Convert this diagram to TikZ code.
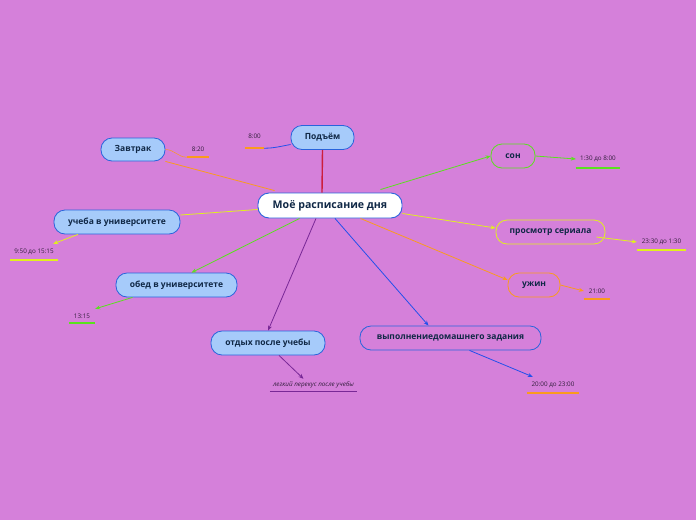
\documentclass[tikz,border=0pt]{standalone}
\usepackage{fontspec}
\setmainfont{Open Sans}
\usetikzlibrary{arrows.meta}
\definecolor{bg}{RGB}{213,128,218}
\definecolor{boxfill}{RGB}{166,203,250}
\definecolor{boxline}{RGB}{40,100,220}
\definecolor{txt}{RGB}{16,40,70}
\definecolor{lbltxt}{RGB}{50,30,60}
\definecolor{cred}{RGB}{204,30,60}
\definecolor{corange}{RGB}{250,155,30}
\definecolor{cyellow}{RGB}{225,240,30}
\definecolor{cgreen}{RGB}{90,225,30}
\definecolor{cpurple}{RGB}{120,40,150}
\definecolor{cblue}{RGB}{35,80,235}
\tikzset{
  main/.style={draw=boxline, line width=0.9pt, fill=white, rounded corners=11pt,
    minimum width=144pt, minimum height=25pt, inner sep=0pt, text=txt,
    font=\fontsize{10.6}{12}\selectfont\bfseries},
  sub/.style={draw=boxline, line width=0.8pt, fill=boxfill, rounded corners=11pt,
    minimum height=24pt, inner sep=0pt, text=txt,
    font=\fontsize{8.5}{10}\selectfont\bfseries},
  subo/.style={sub, fill=none},
  lbl/.style={inner sep=0pt, text=lbltxt, font=\fontsize{6.3}{7}\selectfont},
  uline/.style={line width=1.7pt},
  con/.style={line width=0.8pt},
  arr/.style={con, -{Stealth[length=5pt,width=4pt]}},
}
\begin{document}
\begin{tikzpicture}[x=1pt,y=-1pt]
\fill[bg] (0,0) rectangle (696,520);
\useasboundingbox (0,0) rectangle (696,520);

% main nodes
\node[main] (c) at (330,205.5) {Моё расписание дня};
\node[sub, minimum width=63pt] (pod) at (322.5,137.5) {Подъём};
\node[sub, minimum width=64pt, minimum height=23pt] (zav) at (133,149.5) {Завтрак};
\node[sub, minimum width=126pt] (uch) at (117,222) {учеба в университете};
\node[sub, minimum width=121pt] (obed) at (176.5,285) {обед в университете};
\node[sub, minimum width=114pt] (otd) at (268,343) {отдых после учебы};
\node[subo, minimum width=181pt] (vyp) at (450.5,338) {выполнениедомашнего задания};
\node[subo, draw=cgreen, minimum width=44pt] (son) at (513,156) {сон};
\node[subo, draw=cyellow, minimum width=109pt] (pros) at (550.5,232) {просмотр сериала};
\node[subo, draw=corange, minimum width=52pt] (uzh) at (534,285) {ужин};

% labels (center at text, south at underline)
\node[lbl, minimum width=19pt, minimum height=24pt] (t800) at (254.5,136) {8:00};
\node[lbl, minimum width=22pt, minimum height=16pt] (t820) at (198,149) {8:20};
\node[lbl, minimum width=44pt, minimum height=18pt] (t130) at (598,159) {1:30 до 8:00};
\node[lbl, minimum width=49pt, minimum height=16pt] (t2330) at (661.5,242) {23:30 до 1:30};
\node[lbl, minimum width=26pt, minimum height=16pt] (t2100) at (597,291) {21:00};
\node[lbl, minimum width=48pt, minimum height=16pt] (t950) at (34,252) {9:50 до 15:15};
\node[lbl, minimum width=26pt, minimum height=14pt] (t1315) at (82,316) {13:15};
\node[lbl, minimum width=87pt, minimum height=12pt] (leg) at (313.5,385) {\itshape легкий перекус после учебы};
\node[lbl, minimum width=52pt, minimum height=16pt] (t2000) at (553,385) {20:00 до 23:00};

% underlines
\draw[corange, uline] (t800.south west) -- (t800.south east);
\draw[corange, uline] (t820.south west) -- (t820.south east);
\draw[cgreen, uline] (t130.south west) -- (t130.south east);
\draw[cyellow, uline] (t2330.south west) -- (t2330.south east);
\draw[corange, uline] (t2100.south west) -- (t2100.south east);
\draw[cyellow, uline] (t950.south west) -- (t950.south east);
\draw[cgreen, uline] (t1315.south west) -- (t1315.south east);
\draw[cpurple, line width=1.3pt] (leg.south west) -- (leg.south east);
\draw[corange, uline] (t2000.south west) -- (t2000.south east);

% connectors from center
\draw[con, cred, line width=1.4pt] (pod.south) -- ([xshift=-8pt]c.north);
\draw[con, corange] (zav.south east) -- ([xshift=17pt,yshift=2pt]c.north west);
\draw[con, cyellow] ([yshift=7pt]uch.east) -- ([yshift=-4pt]c.west);
\draw[arr, cgreen] ([xshift=42pt]c.south west) -- ([xshift=15pt]obed.north);
\draw[arr, cpurple] ([xshift=-14pt]c.south) -- (otd.north);
\draw[arr, cblue] ([xshift=5pt]c.south) -- ([xshift=-22pt]vyp.north);
\draw[arr, corange] ([xshift=-42pt]c.south east) -- ([yshift=5pt]uzh.west);
\draw[arr, cyellow] ([yshift=-8pt]c.east) -- ([yshift=4pt]pros.west);
\draw[arr, cgreen] ([xshift=-22pt,yshift=3pt]c.north east) -- (son.west);

% secondary connectors
\draw[con, cblue] ([yshift=-7pt]pod.west) to[out=190,in=0] (t800.south east);
\draw[con, corange, line width=0.5pt] (zav.east) to[out=0,in=180] (t820.south west);
\draw[arr, cgreen] (son.east) -- (t130.west);
\draw[arr, cyellow] ([xshift=-9pt,yshift=-5pt]pros.east) -- (t2330.west);
\draw[arr, corange] (uzh.east) -- (t2100.west);
\draw[arr, cyellow] ([xshift=-39pt]uch.south) -- ([xshift=-5pt]t950.north east);
\draw[arr, cgreen] ([xshift=-44pt]obed.south) -- (t1315.north east);
\draw[arr, cpurple] ([xshift=11pt]otd.south) -- ([xshift=-10pt]leg.north);
\draw[arr, cblue] ([xshift=19pt]vyp.south) -- ([xshift=6pt]t2000.north west);
\end{tikzpicture}
\end{document}
